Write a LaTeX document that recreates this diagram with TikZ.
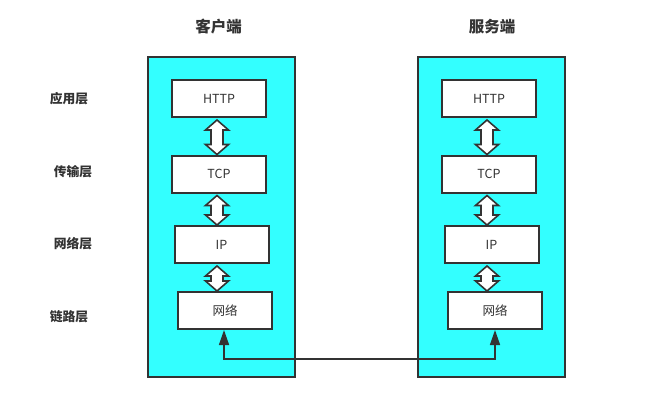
\documentclass[tikz,border=0pt]{standalone}
\usepackage{fontspec}
\setmainfont{Noto Sans CJK SC}
\usetikzlibrary{arrows.meta,calc}
\definecolor{cyanbg}{HTML}{33FFFF}
\definecolor{edge}{HTML}{333333}
\tikzset{
  bigbox/.style={draw=edge,line width=2pt,fill=cyanbg,minimum width=147pt,minimum height=320pt,inner sep=0pt},
  layerbox/.style={draw=edge,line width=2pt,fill=white,minimum width=94pt,minimum height=37pt,inner sep=0pt,font=\fontsize{12.5}{14}\selectfont,text=edge},
  title/.style={font=\fontsize{15.5}{18}\selectfont\bfseries,text=edge},
  layerlabel/.style={font=\fontsize{12.8}{14}\selectfont\bfseries,text=edge},
  dblarrow/.style={draw=edge,line width=1.6pt,fill=white,line join=miter},
  conn/.style={draw=edge,line width=1.5pt,{Triangle[length=15pt,width=10pt]}-{Triangle[length=15pt,width=10pt]}}
}
\newcommand\dbl[3]{\path[dblarrow] let \p1=(#2.south), \p2=(#3.north) in
 (#1pt,\y1-2pt) -- (#1pt+11.5pt,\y1-12pt) -- (#1pt+6pt,\y1-12pt) -- (#1pt+6pt,\y2+10pt) -- (#1pt+11.5pt,\y2+10pt) -- (#1pt,\y2) -- (#1pt-11.5pt,\y2+10pt) -- (#1pt-6pt,\y2+10pt) -- (#1pt-6pt,\y1-12pt) -- (#1pt-11.5pt,\y1-12pt) -- cycle;}
\begin{document}
\begin{tikzpicture}[x=1pt,y=-1pt]
\useasboundingbox (0,0) rectangle (662,407);
\node[bigbox] (lbox) at (221.5,217) {};
\node[bigbox] (rbox) at (491,217) {};
\node[title] (lt) at (218.5,27) {客户端};
\node[title] (rt) at (492,27) {服务端};
\node[layerlabel] (l1) at (69,99) {应用层};
\node[layerlabel] (l2) at (73,172) {传输层};
\node[layerlabel] (l3) at (73,244) {网络层};
\node[layerlabel] (l4) at (69,317) {链路层};
\node[layerbox] (lhttp) at (219,98.5) {HTTP};
\node[layerbox] (ltcp) at (219,174) {TCP};
\node[layerbox] (lip) at (221.5,244.5) {IP};
\node[layerbox] (lnet) at (225,310.5) {网络};
\node[layerbox] (rhttp) at (489,98.5) {HTTP};
\node[layerbox] (rtcp) at (489,174) {TCP};
\node[layerbox] (rip) at (491.5,244.5) {IP};
\node[layerbox] (rnet) at (495,310.5) {网络};
\dbl{217}{lhttp}{ltcp}
\dbl{217}{ltcp}{lip}
\dbl{217}{lip}{lnet}
\dbl{487}{rhttp}{rtcp}
\dbl{487}{rtcp}{rip}
\dbl{487}{rip}{rnet}
\coordinate (c1) at (224,359);
\coordinate (c2) at (495,359);
\draw[conn] (lnet.south -| c1) -- (c1) -- (c2) -- (rnet.south -| c2);
\end{tikzpicture}
\end{document}
